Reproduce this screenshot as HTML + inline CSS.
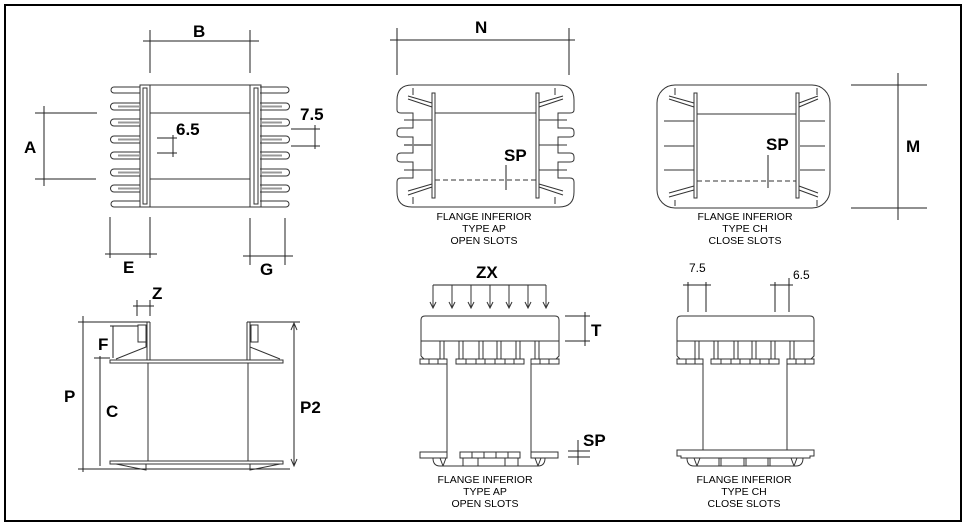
<!DOCTYPE html>
<html><head><meta charset="utf-8"><style>
html,body{margin:0;padding:0;background:#fff}
svg{display:block}
text{font-family:"Liberation Sans",sans-serif;fill:#000;stroke:none}
.L{font-size:17px;font-weight:bold}
.s{font-size:10.5px}
</style></head><body>
<svg width="967" height="528" viewBox="0 0 967 528" xmlns="http://www.w3.org/2000/svg" fill="none" stroke="#222" stroke-width="1">
<rect x="5" y="5" width="956" height="516" stroke="#000" stroke-width="2"/>

<!-- TOP LEFT VIEW -->
<g stroke="#333">
<line x1="150" y1="85" x2="250" y2="85"/><line x1="150" y1="207" x2="250" y2="207"/>
<line x1="150" y1="113" x2="250" y2="113"/><line x1="150" y1="179" x2="250" y2="179"/>
<rect x="140" y="85" width="10" height="122"/><rect x="143" y="88" width="4" height="116"/>
<rect x="250" y="85" width="11" height="122"/><rect x="254" y="88" width="4" height="116"/>
<g id="fl">
<path d="M140 87 H114 a3 3 0 0 0 0 6 H140"/>
<path d="M140 103 H114 a3.5 3.5 0 0 0 0 7 H140"/><line x1="118" y1="106.5" x2="140" y2="106.5" stroke="#999" stroke-width="2"/>
<path d="M140 119 H114 a3.5 3.5 0 0 0 0 7 H140"/><line x1="118" y1="122.5" x2="140" y2="122.5" stroke="#999" stroke-width="2"/>
<path d="M140 136 H114 a3.5 3.5 0 0 0 0 7 H140"/><line x1="118" y1="139.5" x2="140" y2="139.5" stroke="#999" stroke-width="2"/>
<path d="M140 152 H114 a3.5 3.5 0 0 0 0 7 H140"/><line x1="118" y1="155.5" x2="140" y2="155.5" stroke="#999" stroke-width="2"/>
<path d="M140 169 H114 a3.5 3.5 0 0 0 0 7 H140"/><line x1="118" y1="172.5" x2="140" y2="172.5" stroke="#999" stroke-width="2"/>
<path d="M140 185 H114 a3.5 3.5 0 0 0 0 7 H140"/><line x1="118" y1="188.5" x2="140" y2="188.5" stroke="#999" stroke-width="2"/>
<path d="M140 201 H114 a3 3 0 0 0 0 6 H140"/>
</g>
<use href="#fl" transform="translate(400,0) scale(-1,1)"/>
</g>
<!-- dims top left -->
<line x1="143" y1="41" x2="259" y2="41"/><line x1="150" y1="30" x2="150" y2="73"/><line x1="250" y1="30" x2="250" y2="73"/>
<text class="L" x="193" y="37">B</text>
<line x1="44" y1="106" x2="44" y2="186"/><line x1="35" y1="113" x2="97" y2="113"/><line x1="35" y1="179" x2="96" y2="179"/>
<text class="L" x="24" y="153">A</text>
<line x1="157" y1="138" x2="177" y2="138"/><line x1="157" y1="153" x2="177" y2="153"/><line x1="173" y1="135" x2="173" y2="157"/>
<text class="L" x="176" y="135">6.5</text>
<line x1="291" y1="129" x2="320" y2="129"/><line x1="291" y1="146" x2="320" y2="146"/><line x1="315" y1="125" x2="315" y2="149"/>
<text class="L" x="300" y="120">7.5</text>
<line x1="110" y1="217" x2="110" y2="258"/><line x1="150" y1="217" x2="150" y2="258"/><line x1="105" y1="254" x2="157" y2="254"/>
<text class="L" x="123" y="273">E</text>
<line x1="250" y1="218" x2="250" y2="265"/><line x1="285" y1="218" x2="285" y2="265"/><line x1="243" y1="256" x2="293" y2="256"/>
<text class="L" x="260" y="275">G</text>

<!-- TOP MIDDLE AP -->
<line x1="390" y1="40" x2="575" y2="40"/><line x1="397" y1="28" x2="397" y2="75"/><line x1="569" y1="28" x2="569" y2="75"/>
<text class="L" x="475" y="33">N</text>
<g stroke="#333">
<path d="M412 85 H559 Q574 85 574 100 V110 Q574 113 570 113 H558 V128 H570 Q574 128 574 132 V134 Q574 137 570 137 H558 V153 H570 Q574 153 574 157 V159 Q574 162 570 162 H558 V178 H570 Q574 178 574 182 V192 Q574 207 559 207 H412 Q397 207 397 192 V182 Q397 178 401 178 H413 V162 H401 Q397 162 397 159 V157 Q397 153 401 153 H413 V137 H401 Q397 137 397 134 V132 Q397 128 401 128 H413 V113 H401 Q397 113 397 110 V100 Q397 85 412 85 Z"/>
<rect x="432" y="93" width="3" height="105"/><rect x="536" y="93" width="3" height="105"/>
<line x1="435" y1="113" x2="536" y2="113"/><line x1="435" y1="180" x2="536" y2="180" stroke-dasharray="5,3"/>
<path d="M408 96 L432 103 M408 99 L432 107 M408 195 L432 187 M408 191 L432 184"/>
<path d="M563 96 L539 103 M563 99 L539 107 M563 195 L539 187 M563 191 L539 184"/>
<line x1="404" y1="120" x2="432" y2="120"/><line x1="404" y1="145" x2="432" y2="145" stroke="#888" stroke-width="2"/><line x1="404" y1="170" x2="432" y2="170"/>
<line x1="539" y1="120" x2="567" y2="120"/><line x1="539" y1="145" x2="567" y2="145"/><line x1="539" y1="170" x2="567" y2="170"/>
<line x1="413" y1="88" x2="413" y2="95"/><line x1="555" y1="88" x2="555" y2="95"/><line x1="413" y1="197" x2="413" y2="204"/><line x1="555" y1="197" x2="555" y2="204"/>
</g>
<line x1="506" y1="165" x2="506" y2="190"/>
<text class="L" x="504" y="161">SP</text>
<text class="s" x="484" y="220" text-anchor="middle">FLANGE INFERIOR</text>
<text class="s" x="484" y="232" text-anchor="middle">TYPE AP</text>
<text class="s" x="484" y="244" text-anchor="middle">OPEN SLOTS</text>

<!-- TOP RIGHT CH -->
<g stroke="#333">
<rect x="657" y="85" width="173" height="123" rx="18"/>
<rect x="694" y="93" width="3" height="105"/><rect x="796" y="93" width="3" height="105"/>
<line x1="697" y1="114" x2="796" y2="114"/><line x1="697" y1="181" x2="796" y2="181" stroke-dasharray="5,3"/>
<path d="M669 96 L694 103 M669 99 L694 107 M669 197 L694 190 M669 193 L694 186"/>
<path d="M818 96 L799 103 M818 99 L799 107 M818 197 L799 190 M818 193 L799 186"/>
<line x1="664" y1="121" x2="694" y2="121"/><line x1="664" y1="146" x2="694" y2="146"/><line x1="664" y1="170" x2="694" y2="170"/>
<line x1="800" y1="121" x2="825" y2="121"/><line x1="800" y1="146" x2="825" y2="146"/><line x1="800" y1="170" x2="825" y2="170"/>
<line x1="675" y1="88" x2="675" y2="95"/><line x1="817" y1="88" x2="817" y2="95"/><line x1="675" y1="200" x2="675" y2="206"/><line x1="817" y1="200" x2="817" y2="206"/>
</g>
<line x1="768" y1="155" x2="768" y2="188"/>
<text class="L" x="766" y="150">SP</text>
<line x1="851" y1="85" x2="927" y2="85"/><line x1="851" y1="208" x2="927" y2="208"/><line x1="898" y1="73" x2="898" y2="220"/>
<text class="L" x="906" y="152">M</text>
<text class="s" x="745" y="220" text-anchor="middle">FLANGE INFERIOR</text>
<text class="s" x="745" y="232" text-anchor="middle">TYPE CH</text>
<text class="s" x="745" y="244" text-anchor="middle">CLOSE SLOTS</text>

<!-- BOTTOM LEFT -->
<g stroke="#333">
<path d="M150 322 V360 M147 322 V360 M247 322 V360 M250 322 V360"/>
<rect x="110" y="360" width="173" height="3"/><rect x="110" y="461" width="173" height="3"/>
<line x1="148" y1="363" x2="148" y2="461"/><line x1="248" y1="363" x2="248" y2="461"/>
<rect x="138" y="325" width="8" height="17"/><rect x="251" y="325" width="7" height="17"/>
<path d="M116 359 L146 347 V342 M280 359 L250 347 V342"/>
<path d="M116 464 L146 470 V464 M280 464 L250 470 V464"/>
</g>
<line x1="78" y1="322" x2="150" y2="322"/><line x1="78" y1="469" x2="290" y2="469"/><line x1="83" y1="316" x2="83" y2="472"/>
<text class="L" x="64" y="402">P</text>
<line x1="100" y1="356" x2="100" y2="466"/><line x1="94" y1="358" x2="110" y2="358"/>
<text class="L" x="106" y="417">C</text>
<line x1="113" y1="326" x2="113" y2="358"/><line x1="110" y1="326" x2="138" y2="326"/>
<text class="L" x="98" y="350">F</text>
<line x1="137" y1="300" x2="137" y2="316"/><line x1="150" y1="300" x2="150" y2="316"/><line x1="133" y1="306" x2="154" y2="306"/>
<text class="L" x="152" y="299">Z</text>
<line x1="247" y1="322" x2="300" y2="322"/><line x1="294" y1="324" x2="294" y2="466"/>
<path d="M291 330 L294 323 L297 330 M291 459 L294 466 L297 459" stroke="#333"/>
<text class="L" x="300" y="413">P2</text>

<!-- BOTTOM MIDDLE AP -->
<line x1="433" y1="285" x2="546" y2="285"/>
<text class="L" x="476" y="278">ZX</text>
<g stroke="#333">
<path d="M433 285 V307 M452 285 V307 M471 285 V307 M490 285 V307 M509 285 V307 M528 285 V307 M546 285 V307"/>
<path d="M430 302 L433 308 L436 302 M449 302 L452 308 L455 302 M468 302 L471 308 L474 302 M487 302 L490 308 L493 302 M506 302 L509 308 L512 302 M525 302 L528 308 L531 302 M543 302 L546 308 L549 302"/>
<path d="M421 356 V320 Q421 316 425 316 H555 Q559 316 559 320 V356 L556 359 M421 356 L424 359"/>
<line x1="421" y1="341" x2="559" y2="341"/>
<rect x="440" y="341" width="4" height="18"/><rect x="459" y="341" width="4" height="18"/><rect x="479" y="341" width="4" height="18"/><rect x="497" y="341" width="4" height="18"/><rect x="516" y="341" width="4" height="18"/><rect x="535" y="341" width="4" height="18"/>
<rect x="420" y="359" width="27" height="5"/><path d="M429 359 V364 M438 359 V364"/>
<rect x="456" y="359" width="68" height="5"/><path d="M466 359 V364 M476 359 V364 M485 359 V364 M495 359 V364 M505 359 V364 M514 359 V364"/>
<rect x="531" y="359" width="28" height="5"/><path d="M540 359 V364 M549 359 V364"/>
<line x1="447" y1="364" x2="447" y2="452"/><line x1="531" y1="364" x2="531" y2="452"/>
<path d="M420 452 H447 V458 H420 Z M531 452 H558 V458 H531 Z"/>
<rect x="460" y="452" width="60" height="6"/><path d="M472 452 V458 M484 452 V458 M496 452 V458 M508 452 V458"/>
<path d="M433 458 Q433 466 440 466 H538 Q545 466 545 458"/>
<path d="M463 458 V466 M478 458 V466 M505 458 V466 M518 458 V466 M440 458 L443 466 M446 458 L443 466 M535 458 L538 466 M541 458 L538 466"/>
</g>
<line x1="565" y1="316" x2="590" y2="316"/><line x1="565" y1="341" x2="590" y2="341"/><line x1="585" y1="312" x2="585" y2="346"/>
<text class="L" x="591" y="336">T</text>
<line x1="568" y1="451" x2="590" y2="451"/><line x1="568" y1="457" x2="590" y2="457"/><line x1="578" y1="440" x2="578" y2="465"/>
<text class="L" x="583" y="446">SP</text>
<text class="s" x="485" y="483" text-anchor="middle">FLANGE INFERIOR</text>
<text class="s" x="485" y="495" text-anchor="middle">TYPE AP</text>
<text class="s" x="485" y="507" text-anchor="middle">OPEN SLOTS</text>

<!-- BOTTOM RIGHT CH -->
<g stroke="#333">
<path d="M677 356 V320 Q677 316 681 316 H810 Q814 316 814 320 V356 L811 359 M677 356 L680 359"/>
<line x1="677" y1="341" x2="814" y2="341"/>
<rect x="695" y="341" width="4" height="18"/><rect x="714" y="341" width="4" height="18"/><rect x="734" y="341" width="4" height="18"/><rect x="752" y="341" width="4" height="18"/><rect x="771" y="341" width="4" height="18"/><rect x="790" y="341" width="4" height="18"/>
<rect x="677" y="359" width="26" height="5"/><path d="M686 359 V364 M695 359 V364"/>
<rect x="711" y="359" width="68" height="5"/><path d="M721 359 V364 M731 359 V364 M740 359 V364 M750 359 V364 M760 359 V364 M769 359 V364"/>
<rect x="787" y="359" width="27" height="5"/><path d="M796 359 V364 M805 359 V364"/>
<line x1="703" y1="364" x2="703" y2="450"/><line x1="787" y1="364" x2="787" y2="450"/>
<path d="M677 450 H814 V456 H810 V458 H681 V456 H677 Z"/>
<path d="M687 458 Q687 466 694 466 H796 Q803 466 803 458"/>
<path d="M719 458 V466 M721 458 V466 M744 458 V466 M746 458 V466 M768 458 V466 M770 458 V466 M694 458 L697 466 M700 458 L697 466 M791 458 L794 466 M797 458 L794 466"/>
</g>
<line x1="688" y1="282" x2="688" y2="312"/><line x1="706" y1="282" x2="706" y2="312"/><line x1="683" y1="285" x2="711" y2="285"/>
<text x="689" y="272" style="font-size:12px">7.5</text>
<line x1="775" y1="282" x2="775" y2="312"/><line x1="789" y1="278" x2="789" y2="312"/><line x1="770" y1="285" x2="793" y2="285"/>
<text x="793" y="279" style="font-size:12px">6.5</text>
<text class="s" x="744" y="483" text-anchor="middle">FLANGE INFERIOR</text>
<text class="s" x="744" y="495" text-anchor="middle">TYPE CH</text>
<text class="s" x="744" y="507" text-anchor="middle">CLOSE SLOTS</text>
</svg>
</body></html>
